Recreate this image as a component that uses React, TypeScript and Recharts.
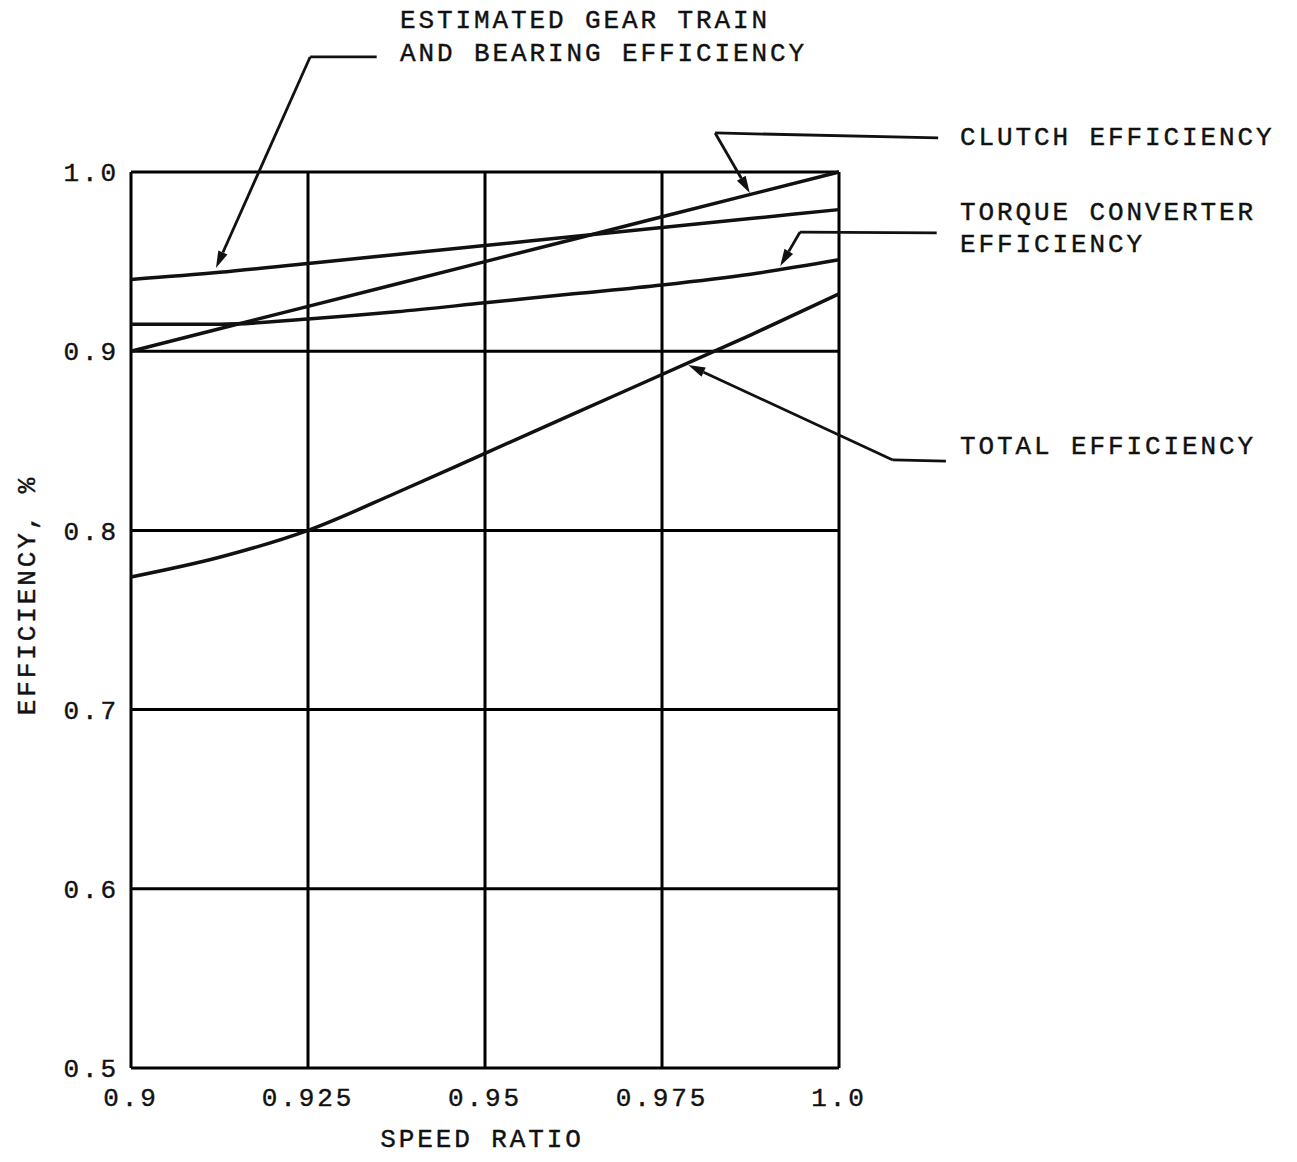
import React from "react";
import { LineChart, Line, XAxis, YAxis, CartesianGrid, ReferenceLine } from "recharts";

// ---- data ----
const speedRatio = [0.9, 0.9125, 0.925, 0.9375, 0.95, 0.9625, 0.975, 0.9875, 1.0];
const clutchEff = [0.9, 0.9125, 0.925, 0.9375, 0.95, 0.9625, 0.975, 0.9875, 1.0];
const gearEff = [0.94, 0.944, 0.949, 0.954, 0.959, 0.964, 0.969, 0.974, 0.979];
const torqueEff = [0.915, 0.915, 0.918, 0.922, 0.927, 0.932, 0.937, 0.943, 0.951];
const totalEff = [0.774, 0.785, 0.8, 0.821, 0.843, 0.865, 0.887, 0.909, 0.932];

const xTicks = [0.9, 0.925, 0.95, 0.975, 1.0];
const xTickLabels = ["0.9", "0.925", "0.95", "0.975", "1.0"];
const yTicks = [0.5, 0.6, 0.7, 0.8, 0.9, 1.0];
const yTickLabels = ["0.5", "0.6", "0.7", "0.8", "0.9", "1.0"];

// leader lines (data coordinates): [from, to]; arrows point at the curve
const gearLeader = [{ x: 0.9347, y: 1.0642 }, { x: 0.9253, y: 1.0642 }];
const gearArrow = [{ x: 0.9253, y: 1.0642 }, { x: 0.912, y: 0.9464 }];
const clutchLeader = [{ x: 1.014, y: 1.019 }, { x: 0.9825, y: 1.0218 }];
const clutchArrow = [{ x: 0.9825, y: 1.0218 }, { x: 0.9874, y: 0.9883 }];
const torqueLeader = [{ x: 1.0138, y: 0.966 }, { x: 0.9945, y: 0.9665 }];
const torqueArrow = [{ x: 0.9945, y: 0.9665 }, { x: 0.9917, y: 0.9475 }];
const totalLeader = [{ x: 1.0151, y: 0.8387 }, { x: 1.0076, y: 0.8393 }];
const totalArrow = [{ x: 1.0076, y: 0.8393 }, { x: 0.9787, y: 0.8923 }];

const chartData = speedRatio.map((s, i) => ({
  s,
  clutch: clutchEff[i],
  gear: gearEff[i],
  torque: torqueEff[i],
  total: totalEff[i],
}));

const FONT = '"Liberation Mono", "DejaVu Sans Mono", monospace';
const INK = "#111";

const ArrowShape = (props: any) => {
  const { x1, y1, x2, y2 } = props;
  const ang = Math.atan2(y2 - y1, x2 - x1);
  const len = 17;
  const hw = 5;
  const bx = x2 - len * Math.cos(ang);
  const by = y2 - len * Math.sin(ang);
  const px = -Math.sin(ang) * hw;
  const py = Math.cos(ang) * hw;
  return (
    <g>
      <line x1={x1} y1={y1} x2={bx} y2={by} stroke={INK} strokeWidth={2.8} />
      <polygon points={`${x2},${y2} ${bx + px},${by + py} ${bx - px},${by - py}`} fill={INK} />
    </g>
  );
};

const textStyle: React.CSSProperties = {
  position: "absolute",
  fontFamily: FONT,
  fontSize: 26,
  letterSpacing: 2.9,
  lineHeight: "26px",
  color: INK,
  whiteSpace: "nowrap",
  WebkitTextStroke: "0.4px #111",
};

const tickStyle = {
  fontFamily: FONT,
  fontSize: 26,
  letterSpacing: 2.9,
  fill: INK,
  stroke: INK,
  strokeWidth: 0.4,
};

export default function App() {
  return (
    <div style={{ position: "relative", width: 1280, height: 1146, background: "#fff" }}>
      <LineChart
        width={1280}
        height={1146}
        data={chartData}
        margin={{ top: 164, right: 449, bottom: 26, left: 43 }}
      >
        <CartesianGrid stroke="#000" strokeWidth={3} />
        <XAxis
          dataKey="s"
          type="number"
          domain={[0.9, 1.0]}
          ticks={xTicks}
          tickFormatter={(v: number) => xTickLabels[xTicks.indexOf(v)] ?? String(v)}
          axisLine={false}
          tickLine={false}
          tickSize={0}
          tickMargin={20}
          height={60}
          tick={tickStyle}
          interval={0}
        />
        <YAxis
          type="number"
          domain={[0.5, 1.0]}
          ticks={yTicks}
          tickFormatter={(v: number) => yTickLabels[yTicks.indexOf(v)] ?? String(v)}
          axisLine={false}
          tickLine={false}
          tickSize={0}
          tickMargin={12}
          width={80}
          tick={tickStyle}
          interval={0}
        />
        <Line type="linear" dataKey="clutch" stroke={INK} strokeWidth={3.5} dot={false} isAnimationActive={false} />
        <Line type="monotone" dataKey="gear" stroke={INK} strokeWidth={3.5} dot={false} isAnimationActive={false} />
        <Line type="monotone" dataKey="torque" stroke={INK} strokeWidth={3.5} dot={false} isAnimationActive={false} />
        <Line type="monotone" dataKey="total" stroke={INK} strokeWidth={3.5} dot={false} isAnimationActive={false} />

        <ReferenceLine segment={gearLeader} ifOverflow="visible" stroke={INK} strokeWidth={2.8} />
        <ReferenceLine segment={gearArrow} ifOverflow="visible" shape={ArrowShape} />
        <ReferenceLine segment={clutchLeader} ifOverflow="visible" stroke={INK} strokeWidth={2.8} />
        <ReferenceLine segment={clutchArrow} ifOverflow="visible" shape={ArrowShape} />
        <ReferenceLine segment={torqueLeader} ifOverflow="visible" stroke={INK} strokeWidth={2.8} />
        <ReferenceLine segment={torqueArrow} ifOverflow="visible" shape={ArrowShape} />
        <ReferenceLine segment={totalLeader} ifOverflow="visible" stroke={INK} strokeWidth={2.8} />
        <ReferenceLine segment={totalArrow} ifOverflow="visible" shape={ArrowShape} />
      </LineChart>

      <div style={{ ...textStyle, left: 392, top: 0 }}>ESTIMATED GEAR TRAIN</div>
      <div style={{ ...textStyle, left: 392, top: 33 }}>AND BEARING EFFICIENCY</div>
      <div style={{ ...textStyle, left: 952, top: 117 }}>CLUTCH EFFICIENCY</div>
      <div style={{ ...textStyle, left: 952, top: 192 }}>TORQUE CONVERTER</div>
      <div style={{ ...textStyle, left: 952, top: 224 }}>EFFICIENCY</div>
      <div style={{ ...textStyle, left: 952, top: 426 }}>TOTAL EFFICIENCY</div>

      <div
        style={{
          ...textStyle,
          left: 20,
          top: 587,
          transform: "translate(-50%, -50%) rotate(-90deg)",
        }}
      >
        EFFICIENCY, %
      </div>
      <div style={{ ...textStyle, left: 474, top: 1132, transform: "translate(-50%, -50%)" }}>
        SPEED RATIO
      </div>
    </div>
  );
}
